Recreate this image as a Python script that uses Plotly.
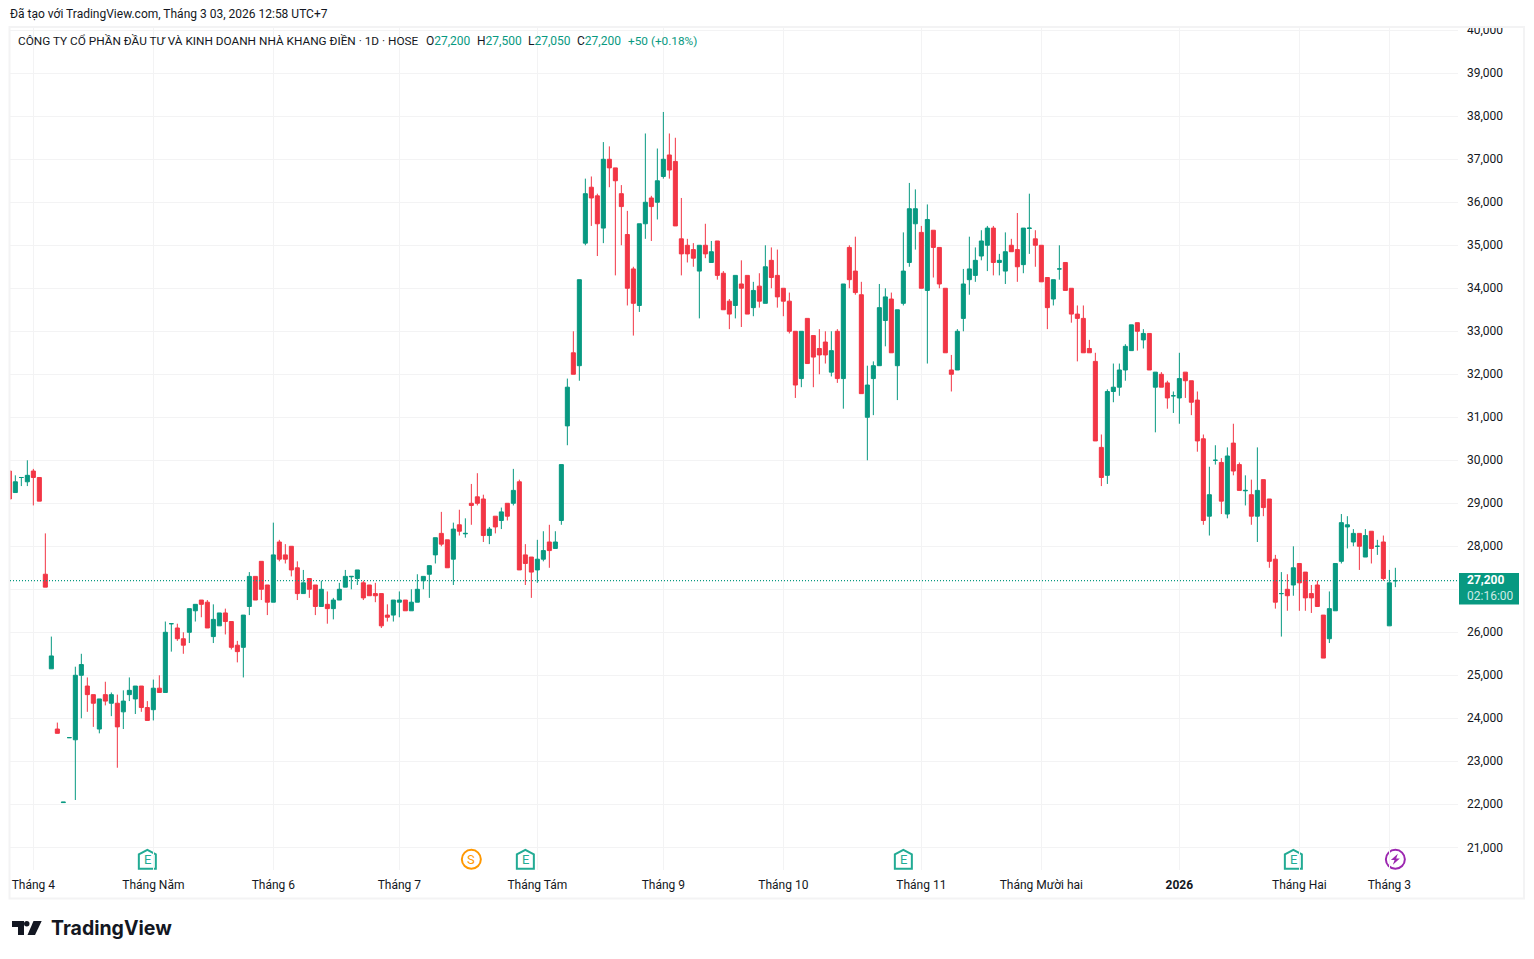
import plotly.graph_objects as go

# Daily bars (VND)
open_prices = [
    29750, 29250, 29600, 29500, 29750, 29600, 27350, 25150, 23750, 22040,
    23550, 23500, 25000, 24750, 24550, 23750, 24550, 24350, 24350, 24150,
    24550, 24450, 24750, 24250, 24200, 24700, 24600, 26200, 26100, 25850,
    26000, 26500, 26750, 26700, 25900, 26150, 26450, 26250, 25700, 25650,
    26600, 27300, 27650, 27100, 26700, 28100, 27800, 28000, 27500, 26900,
    27250, 27100, 26600, 26650, 26550, 26750, 27050, 27290, 27250, 27150,
    27100, 26900, 26900, 26400, 26400, 26700, 26750, 26500, 26700, 27200,
    27350, 27800, 28300, 28150, 27700, 28500, 28290, 29000, 29150, 29100,
    28250, 28700, 28600, 29000, 29000, 29500, 27800, 27750, 27450, 27700,
    28100, 27950, 28600, 30800, 32500, 32200, 35050, 36350, 36150, 35400,
    37000, 36800, 36200, 35250, 34450, 33600, 35500, 36100, 36000, 36600,
    37100, 36950, 35150, 35000, 34900, 34400, 35000, 34600, 35100, 34350,
    33700, 33600, 34100, 34300, 33550, 34050, 33650, 34650, 34300, 34000,
    33700, 33000, 31900, 33300, 32900, 32600, 32750, 32050, 33000, 31900,
    34950, 34400, 33850, 31000, 31900, 32200, 33250, 33750, 32200, 33650,
    34600, 35500, 35300, 33950, 35350, 34950, 34000, 32100, 32100, 33300,
    34200, 34300, 34750, 35000, 35400, 34600, 34400, 35000, 34900, 34550,
    35390, 35150, 35000, 34250, 33750, 34450, 34600, 34000, 33400, 33300,
    32600, 32300, 30300, 29650, 31600, 31700, 32100, 32550, 33200, 32800,
    32950, 31700, 32000, 31800, 31500, 31450, 32050, 31850, 31400, 30500,
    28700, 30000, 29950, 28750, 30400, 29900, 29290, 29200, 28700, 29550,
    29100, 27700, 26900, 27000, 27100, 27600, 27400, 26900, 27100, 26400,
    25850, 26500, 27650, 28450, 28100, 28300, 27750, 28350, 28000, 28100,
    26150, 27200,
]
high_prices = [
    29750, 29650, 29600, 30000, 29800, 29600, 28300, 25900, 23900, 22050,
    23550, 25200, 25500, 24950, 24550, 24450, 24850, 24600, 24550, 24650,
    24950, 24750, 24750, 24400, 24900, 25000, 26250, 26200, 26200, 26000,
    26550, 26650, 26750, 26750, 26650, 26450, 26550, 26250, 25800, 26400,
    27400, 27300, 27650, 27100, 28550, 28150, 28050, 28000, 27650, 27450,
    27250, 27100, 27200, 26950, 26800, 27150, 27450, 27300, 27450, 27200,
    27100, 27150, 26900, 26650, 26750, 26950, 26750, 27000, 27350, 27300,
    27550, 28200, 28800, 28150, 28550, 28850, 28650, 29450, 29700, 29200,
    28450, 28700, 28900, 29000, 29800, 29550, 28050, 27750, 28150, 28350,
    28500, 28350, 29900, 31900, 33000, 34200, 36550, 36600, 36200, 37400,
    37300, 36800, 36400, 35800, 34500, 35500, 37600, 36150, 37250, 38100,
    37600, 37500, 36100, 35150, 35050, 35000, 35500, 35100, 35100, 34400,
    33750, 34300, 34650, 34300, 34150, 34350, 35000, 34950, 34900, 34000,
    33900, 33000, 33000, 33300, 32900, 33050, 33000, 33000, 33050, 34100,
    35000, 35200, 34150, 32200, 32300, 34100, 34000, 33900, 33500, 35300,
    36450, 36300, 35450, 35950, 35350, 34950, 34000, 32450, 33050, 34450,
    35200, 34950, 35350, 35450, 35450, 34800, 35300, 35150, 35750, 35400,
    36200, 35350, 35000, 34250, 34200, 35000, 34600, 34000, 33600, 33600,
    32800, 32500, 30600, 31650, 32250, 32250, 32700, 33150, 33200, 33050,
    32950, 32050, 32050, 31850, 31600, 32500, 32050, 31850, 31600, 30600,
    29850, 30350, 30050, 30300, 30850, 29950, 29650, 29550, 30300, 29550,
    29100, 27800, 27400, 27350, 28000, 27600, 27400, 27100, 27200, 26400,
    26950, 27600, 28750, 28700, 28400, 28300, 28400, 28350, 28150, 28250,
    27450, 27500,
]
low_prices = [
    29100, 29250, 29400, 29400, 28950, 29050, 27050, 25150, 23650, 22040,
    23550, 22100, 24000, 24150, 23800, 23650, 24300, 24050, 22850, 23750,
    24400, 24100, 24150, 23950, 23950, 24600, 24600, 25550, 25800, 25500,
    25750, 26250, 26350, 26100, 25750, 26150, 25950, 25600, 25300, 24950,
    26400, 26750, 26750, 26400, 26700, 27650, 27600, 27300, 26750, 26900,
    26800, 26400, 26600, 26200, 26300, 26750, 27050, 27000, 27100, 26750,
    26850, 26700, 26100, 26250, 26250, 26350, 26500, 26500, 26700, 27000,
    26800, 27600, 28000, 27500, 27100, 28250, 28200, 28500, 28950, 28100,
    28050, 28300, 28400, 28600, 28950, 27450, 27100, 26800, 27150, 27650,
    27500, 27950, 28500, 30350, 32000, 31850, 35000, 35450, 34750, 35050,
    36350, 34300, 35000, 33600, 32900, 33450, 35150, 35100, 35600, 36550,
    36550, 35450, 34300, 34600, 34500, 33300, 34700, 34600, 34200, 33500,
    33050, 33300, 33100, 33400, 33350, 33550, 33650, 34000, 33550, 33350,
    32950, 31450, 31700, 32250, 31700, 32000, 32250, 31950, 31800, 31200,
    34000, 33850, 31550, 30000, 31050, 32200, 32650, 32500, 31400, 33600,
    34500, 34900, 34000, 32250, 34250, 34000, 32500, 31600, 32100, 33000,
    33850, 34150, 34650, 34400, 34300, 34300, 34100, 34850, 34150, 34350,
    34800, 34500, 34150, 33050, 33600, 34200, 33950, 33200, 32300, 32500,
    32500, 30450, 29400, 29450, 31350, 31500, 31850, 32550, 32550, 32600,
    32100, 30650, 31700, 31200, 31100, 30850, 31450, 31050, 30200, 28500,
    28250, 29900, 28750, 28650, 29650, 29300, 28950, 28500, 28100, 28700,
    27500, 26550, 25900, 26500, 26850, 26500, 26500, 26450, 26600, 25400,
    25750, 26500, 27600, 27950, 28000, 27450, 27750, 27600, 27800, 27200,
    26150, 27050,
]
close_prices = [
    29100, 29500, 29600, 29650, 29600, 29050, 27050, 25450, 23650, 22050,
    23550, 25000, 25250, 24550, 24350, 24450, 24400, 24550, 23800, 24400,
    24650, 24750, 24250, 23950, 24700, 24600, 26000, 26200, 25850, 25700,
    26550, 26650, 26650, 26100, 26300, 26450, 26250, 25650, 25550, 26400,
    27300, 26750, 27000, 26700, 27800, 27700, 27700, 27450, 26900, 27150,
    27000, 26600, 27000, 26550, 26750, 27000, 27300, 27300, 27450, 26800,
    26850, 26850, 26150, 26350, 26750, 26750, 26500, 26700, 27000, 27300,
    27550, 28200, 28050, 27500, 28400, 28350, 28300, 28950, 29000, 28250,
    28400, 28450, 28800, 28700, 29300, 27450, 27600, 27400, 27700, 27900,
    27900, 28100, 29900, 31700, 32000, 34200, 36200, 36100, 35500, 37000,
    36800, 36500, 35900, 34000, 33650, 35500, 36000, 35900, 36500, 37000,
    36750, 35450, 34800, 34800, 34700, 35000, 34800, 34850, 34300, 33500,
    33400, 34300, 34000, 33400, 33950, 33700, 34500, 34250, 33800, 33700,
    33000, 31750, 33000, 32250, 32400, 32450, 32450, 32550, 31900, 34100,
    34200, 33900, 31550, 31750, 32200, 33550, 33800, 32500, 33500, 34400,
    35850, 35850, 34000, 35600, 34950, 34100, 32500, 32000, 33000, 34100,
    34450, 34650, 35100, 35400, 34600, 34650, 34850, 34850, 34500, 35400,
    35400, 35000, 34150, 33550, 34200, 34450, 33950, 33400, 33300, 32500,
    32500, 30450, 29600, 31600, 31700, 32100, 32650, 33150, 33000, 32950,
    32100, 32050, 31700, 31450, 31500, 31900, 31850, 31350, 30450, 28600,
    29200, 30000, 29050, 30100, 29750, 29300, 29300, 28700, 29300, 28900,
    27650, 26700, 26900, 26850, 27500, 27150, 26800, 26800, 26600, 25400,
    26550, 27600, 28550, 28500, 28300, 28000, 28250, 27950, 28000, 27250,
    27150, 27200,
]
bars = list(range(len(open_prices)))

month_bars = [4, 24, 44, 65, 88, 109, 129, 152, 172, 195, 215, 230]
month_labels = ["Tháng 4", "Tháng Năm", "Tháng 6", "Tháng 7", "Tháng Tám", "Tháng 9", "Tháng 10",
                "Tháng 11", "Tháng Mười hai", "<b>2026</b>", "Tháng Hai", "Tháng 3"]
price_ticks = list(range(21000, 41000, 1000))
# 27,000 sits behind the last price tag in the chart
price_labels = ["" if p == 27000 else f"{p:,}" for p in price_ticks]
last_price = 27200

earnings_bars = [23, 86, 149, 214]
dividend_bar = 77
split_bar = 231

GREEN = "#089981"
RED = "#F23645"
INK = "#131722"
GRID = "#F3F3F4"
FONT = "Roboto"

# the page body has an 8px margin, so the figure starts at (8, 8) in the window
PAGE = 8
WIDTH, HEIGHT = 1534 - 2 * PAGE, 959 - 2 * PAGE
# plot area in window pixels
L, R, T, B = 10, 1458, 28, 870


def px(x):
    return (x - L) / (R - L)


def py(y):
    return (B - y) / (B - T)


def label(x, y, text, size=12, color=INK, **font_extra):
    # annotations carry about 2px of padding on the left
    return dict(xref="paper", yref="paper", x=px(x - 2), y=py(y), text=text, showarrow=False,
                xanchor="left", yanchor="middle", align="left",
                font=dict(family=font_extra.pop("family", FONT), size=size, color=color, **font_extra))


def icon_letter(bar, text, color):
    return dict(x=bar, y=py(859.5), xref="x", yref="paper", text=text, showarrow=False,
                xanchor="center", yanchor="middle",
                font=dict(family=FONT, size=13, color=color))


def page_path(path, fill):
    return dict(type="path", xref="paper", yref="paper", path=path, fillcolor=fill,
                line=dict(width=0), layer="above")


def pts(coords):
    return "M" + " L".join(f"{px(x):.5f},{py(y):.5f}" for x, y in coords) + " Z"


def house(bar, color):
    return dict(type="path", xref="x", yref="paper", xsizemode="pixel", ysizemode="pixel",
                xanchor=bar, yanchor=py(859.3),
                path="M-8.5,-9.5 L8.5,-9.5 L8.5,5 L0,9.5 L-8.5,5 Z",
                fillcolor="white", line=dict(color=color, width=2), layer="between")


def ring(bar, color):
    return dict(type="circle", xref="x", yref="paper", xsizemode="pixel", ysizemode="pixel",
                xanchor=bar, yanchor=py(859.3), x0=-9.5, x1=9.5, y0=-9.5, y1=9.5,
                fillcolor="white", line=dict(color=color, width=2), layer="between")


shapes = [
    # cuts the top of the 40,000 label like the chart frame does
    dict(type="rect", xref="paper", yref="paper", x0=px(1459), x1=px(1522), y0=py(16), y1=py(27.5),
         fillcolor="white", line=dict(width=0), layer="above"),
    # outer frame
    dict(type="rect", xref="paper", yref="paper", x0=px(9.5), x1=px(1524), y0=py(27), y1=py(898.5),
         line=dict(color=GRID, width=2), layer="above"),
    # last price line
    dict(type="line", xref="paper", yref="y", x0=0, x1=1, y0=last_price, y1=last_price,
         line=dict(color=GREEN, width=1.3, dash="1px,2px"), layer="above"),
    # last price tag
    dict(type="rect", xref="paper", yref="paper", x0=px(1459), x1=px(1519), y0=py(573), y1=py(604.5),
         fillcolor=GREEN, line=dict(width=0), layer="above"),
    # logo
    page_path(pts([(12, 921), (24, 921), (24, 935), (18, 935), (18, 927), (12, 927)]), INK),
    page_path(pts([(33.5, 921), (41.7, 921), (35, 935), (27.5, 935)]), INK),
    dict(type="circle", xref="paper", yref="paper", x0=px(24), x1=px(29.5), y0=py(921), y1=py(926.5),
         fillcolor=INK, line=dict(width=0), layer="above"),
]
for bar in earnings_bars:
    shapes.append(house(bar, "#22AB94"))
shapes.append(ring(dividend_bar, "#FF9800"))
shapes.append(ring(split_bar, "#9C27B0"))
shapes.append(dict(type="path", xref="x", yref="paper", xsizemode="pixel", ysizemode="pixel",
                   xanchor=split_bar, yanchor=py(859.3),
                   path="M2.5,5.5 L-4.5,-0.8 L-0.8,-0.8 L-2.5,-5.5 L4.5,0.8 L0.8,0.8 Z",
                   fillcolor="#9C27B0", line=dict(width=0), layer="between"))

annotations = [
    label(10, 14, "Đã tạo với TradingView.com, Tháng 3 03, 2026 12:58 UTC+7", size=12),
    label(18, 41, "CÔNG TY CỔ PHẦN ĐẦU TƯ VÀ KINH DOANH NHÀ KHANG ĐIỀN · 1D · HOSE", size=11.8),
    label(426, 41, f"O<span style='color:{GREEN}'>27,200</span>"),
    label(477, 41, f"H<span style='color:{GREEN}'>27,500</span>"),
    label(528, 41, f"L<span style='color:{GREEN}'>27,050</span>"),
    label(577, 41, f"C<span style='color:{GREEN}'>27,200</span>"),
    label(628, 41, "+50 (+0.18%)", size=11.8, color=GREEN),
    label(1467, 587.5, "<b>27,200</b><br><span style='color:#CDEBE6'>02:16:00</span>", color="white"),
    label(51, 928, "TradingView", size=19.5, family="Inter", weight=700),
]
for bar in earnings_bars:
    annotations.append(icon_letter(bar, "E", "#22AB94"))
annotations.append(icon_letter(dividend_bar, "S", "#FF9800"))

fig = go.Figure(go.Candlestick(
    x=bars,
    open=open_prices,
    high=high_prices,
    low=low_prices,
    close=close_prices,
    increasing=dict(line=dict(color=GREEN, width=1), fillcolor=GREEN),
    decreasing=dict(line=dict(color=RED, width=1), fillcolor=RED),
    whiskerwidth=0,
    showlegend=False,
))
fig.update_layout(
    width=WIDTH,
    height=HEIGHT,
    autosize=False,
    margin=dict(l=L - PAGE, r=WIDTH + PAGE - R, t=T - PAGE, b=HEIGHT + PAGE - B, pad=0),
    paper_bgcolor="white",
    plot_bgcolor="white",
    font=dict(family=FONT, size=12, color=INK),
    boxgap=0.18,
    boxgroupgap=0.18,
    shapes=shapes,
    annotations=annotations,
    xaxis=dict(
        range=[0.11, 241.44],
        rangeslider=dict(visible=False),
        tickmode="array",
        tickvals=month_bars,
        ticktext=month_labels,
        ticks="",
        showline=False,
        zeroline=False,
        gridcolor=GRID,
        gridwidth=1,
        ticklabelstandoff=6,
    ),
    yaxis=dict(
        side="right",
        range=[20472, 40053],
        tickmode="array",
        tickvals=price_ticks,
        ticktext=price_labels,
        ticks="",
        showline=False,
        zeroline=False,
        gridcolor=GRID,
        gridwidth=1,
        ticklabelstandoff=8,
    ),
)

fig.write_html("out.html")
